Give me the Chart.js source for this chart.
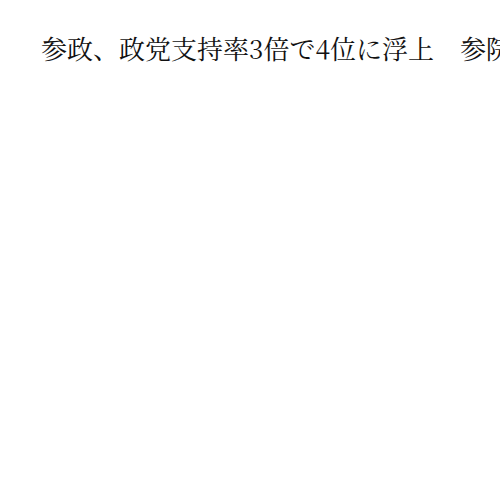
<!DOCTYPE html>
<html lang="ja">
<head>
<meta charset="utf-8">
<script src="https://cdn.jsdelivr.net/npm/chart.js@4/dist/chart.umd.min.js"></script>
<style>
  html, body { margin: 0; padding: 0; background: #fff; width: 500px; height: 500px; overflow: hidden; }
  #title {
    position: absolute; left: 41px; top: 35px;
    font-family: "Noto Serif CJK JP", "IPAMincho", serif;
    font-size: 26px; line-height: 1; color: #111;
    white-space: nowrap;
  }
  #wrap { position: absolute; left: 0; top: 80px; width: 500px; height: 420px; }
</style>
</head>
<body>
<div id="title">参政、政党支持率3倍で4位に浮上　参院選</div>
<div id="wrap"><canvas id="chart"></canvas></div>
<script>
// 参照画像にはグラフ本体が描かれていない（タイトルのみ）
const categories = [];
const supportRates = [];

const ctx = document.getElementById('chart');
new Chart(ctx, {
  type: 'bar',
  data: {
    labels: categories,
    datasets: [{ label: '支持率', data: supportRates, backgroundColor: '#c0392b' }],
  },
  options: {
    responsive: true,
    maintainAspectRatio: false,
    animation: false,
    plugins: { legend: { display: false }, tooltip: { enabled: false } },
    scales: { x: { display: false }, y: { display: false } },
  },
});
</script>
</body>
</html>
